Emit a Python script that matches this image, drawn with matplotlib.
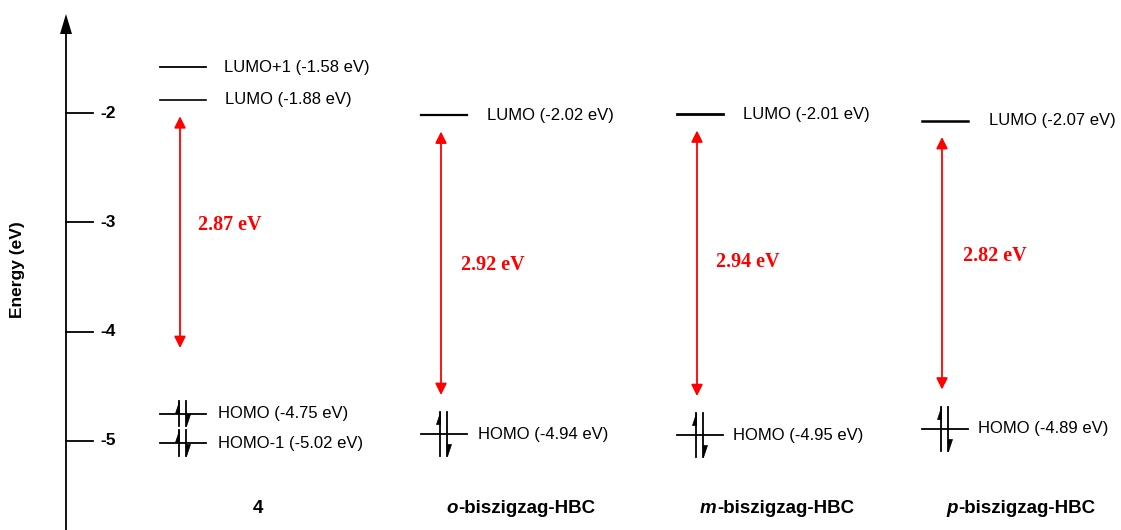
import matplotlib.pyplot as plt
import numpy as np

# orbital energies (eV)
compounds = ["4", "o-biszigzag-HBC", "m-biszigzag-HBC", "p-biszigzag-HBC"]
lumo = [-1.88, -2.02, -2.01, -2.07]
homo = [-4.75, -4.94, -4.95, -4.89]
lumo_plus1 = -1.58
homo_minus1 = -5.02
yticks = [-2, -3, -4, -5]

# layout (figure pixels)
W, H = 1121, 530
PX = 109.3          # pixels per eV
Y0 = 113            # pixel row of -2 eV
level_x = [183, 444, 700, 945]
label_x = [[225, 218], [487, 478], [743, 733], [989, 978]]
gap_x = [230, 493, 748, 995]
gap_frac = [0.40, 0.47, 0.46, 0.44]
name_x = [258, 521, 777, 1021]
arrow_bottom_pad = [0.60, 0.36, 0.36, 0.36]
lumo_lw = [1.2, 1.6, 2.0, 1.8]

red = "#ff0000"
e_top = -2 + Y0 / PX
e_bot = -2 - (H - Y0) / PX
name_y = -2 - (508 - Y0) / PX

fig = plt.figure(figsize=(W / 100, H / 100), dpi=100)
ax = fig.add_axes([0, 0, 1, 1])
ax.set_xlim(0, W)
ax.set_ylim(e_bot, e_top)
ax.axis("off")

# energy axis with arrow head
ax.plot([66, 66], [e_bot, e_top - 30 / PX], color="black", lw=1.3)
ax.fill([60, 72, 66], [e_top - 34 / PX, e_top - 34 / PX, e_top - 14 / PX],
        color="black", lw=0)
for t in yticks:
    ax.plot([66, 93], [t, t], color="black", lw=1.3)
    ax.text(100, t, str(t), ha="left", va="center", fontsize=12.5,
            fontweight="bold", family="Liberation Sans")
ax.text(18, -2 - (270 - Y0) / PX, "Energy (eV)", rotation=90, ha="center",
        va="center", fontsize=12.5, fontweight="bold", family="Liberation Sans")


def level(xc, e, text, tx, lw=1.3):
    ax.plot([xc - 23, xc + 23], [e, e], color="black", lw=lw)
    ax.text(tx, e, text, ha="left", va="center", fontsize=12,
            family="Liberation Sans")


def electrons(xc, e, h_px=22):
    h = h_px / PX
    hh = 12 / PX
    xl, xr = xc - 4, xc + 3
    ax.plot([xl, xl], [e - h, e + h], color="black", lw=1.3)
    ax.fill([xl, xl, xl - 4], [e + h, e + h - hh, e + h - hh], color="black", lw=0.5)
    ax.plot([xr, xr], [e - h, e + h], color="black", lw=1.3)
    ax.fill([xr, xr, xr + 4], [e - h, e - h + hh, e - h + hh], color="black", lw=0.5)


renderer = fig.canvas.get_renderer()
for i, name in enumerate(compounds):
    xc = level_x[i]
    level(xc, lumo[i], f"LUMO ({lumo[i]:.2f} eV)", label_x[i][0], lumo_lw[i])
    level(xc, homo[i], f"HOMO ({homo[i]:.2f} eV)", label_x[i][1])

    gap = lumo[i] - homo[i]
    top = lumo[i] - 0.15
    bottom = homo[i] + arrow_bottom_pad[i]
    ax.annotate("", xy=(xc - 3, top), xytext=(xc - 3, bottom),
                arrowprops=dict(arrowstyle="<|-|>", color=red, lw=1.3,
                                mutation_scale=17, shrinkA=0, shrinkB=0))
    ax.text(gap_x[i], lumo[i] - gap_frac[i] * gap, f"{gap:.2f} eV",
            color=red, ha="center", va="center", fontsize=14.5,
            fontweight="bold", family="Liberation Serif")

    # compound name, with italic o-/m-/p- prefix
    style = dict(va="center", fontsize=13.5, fontweight="bold",
                 family="Liberation Sans")
    if "-" in name:
        prefix, rest = name.split("-", 1)
        t1 = ax.text(0, name_y, prefix, ha="left", fontstyle="italic", **style)
        t2 = ax.text(0, name_y, "-" + rest, ha="left", **style)
        w1 = t1.get_window_extent(renderer).width
        w2 = t2.get_window_extent(renderer).width
        x0 = name_x[i] - (w1 + w2) / 2
        t1.set_x(x0)
        t2.set_x(x0 + w1)
    else:
        ax.text(name_x[i], name_y, name, ha="center", **style)

# extra levels of compound 4
level(level_x[0], lumo_plus1, f"LUMO+1 ({lumo_plus1:.2f} eV)", 224)
level(level_x[0], homo_minus1, f"HOMO-1 ({homo_minus1:.2f} eV)", 218)

# paired electrons; keep neighbouring pairs of compound 4 from overlapping
sep = (homo[0] - homo_minus1) * PX
h4 = min(22, sep / 2 - 2)
electrons(level_x[0], homo[0], h4)
electrons(level_x[0], homo_minus1, h4)
for i in range(1, len(compounds)):
    electrons(level_x[i], homo[i])

fig.savefig("out.png", dpi=100)
